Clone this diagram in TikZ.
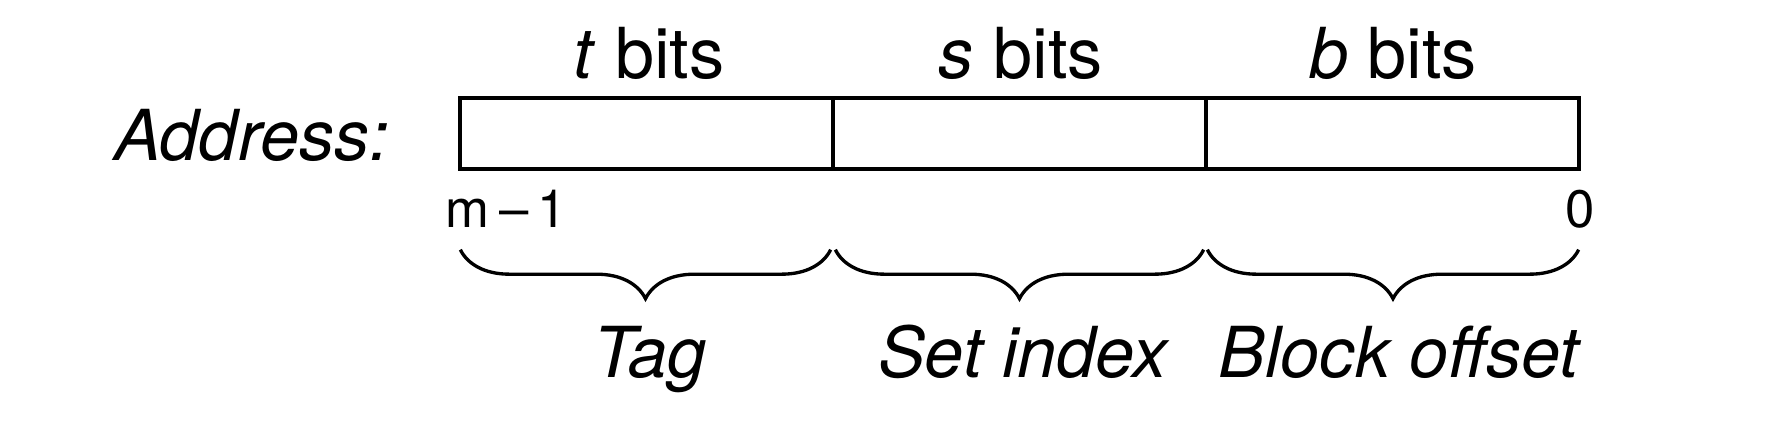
\documentclass[tikz,border=0pt]{standalone}
\usepackage{fontspec}
\setmainfont{TeX Gyre Heros}
\usetikzlibrary{decorations.pathreplacing}
\newcommand\fieldfont{\fontsize{20}{24}\selectfont}
\newcommand\bitfont{\fontsize{15}{18}\selectfont}

\begin{document}
\begin{tikzpicture}[
  field/.style={draw,line width=0.95pt,minimum width=3.73cm,minimum height=0.71cm,inner sep=0pt},
  brc/.style={decorate,decoration={brace,mirror,amplitude=0.49cm},line width=0.95pt}]
\useasboundingbox (0,0) rectangle (17.8,4.23);
\node (tag) at (6.465,2.895) [field] {};
\node (set) at (10.195,2.895) [field] {};
\node (off) at (13.925,2.895) [field] {};

\node (tbits) at (6.49,3.45) [anchor=base] {\fieldfont\textit{t} bits};
\node (sbits) at (10.21,3.45) [anchor=base] {\fieldfont\textit{s} bits};
\node (bbits) at (13.93,3.45) [anchor=base] {\fieldfont\textit{b} bits};
\node (addr) at (3.90,2.63) [anchor=base east,inner sep=0pt] {\fieldfont\textit{Address:}};
\node (hi) at (4.45,1.96) [anchor=base west,inner sep=0pt] {\bitfont m\kern0.18em–\kern0.18em1};
\node (lo) at (15.80,1.96) [anchor=base,inner sep=0pt] {\bitfont 0};

\draw[brc] ([shift={(0.02,-0.79)}]tag.south west) -- ([shift={(-0.04,-0.79)}]tag.south east);
\draw[brc] ([shift={(0.04,-0.79)}]set.south west) -- ([shift={(-0.04,-0.79)}]set.south east);
\draw[brc] ([shift={(0.03,-0.79)}]off.south west) -- ([shift={(-0.02,-0.79)}]off.south east);

\node (tagl) at (6.50,0.46) [anchor=base] {\fieldfont\textit{Tag}};
\node (setl) at (10.24,0.46) [anchor=base] {\fieldfont\textit{Set index}};
\node (offl) at (14.00,0.46) [anchor=base] {\fieldfont\textit{Block offset}};
\end{tikzpicture}
\end{document}
